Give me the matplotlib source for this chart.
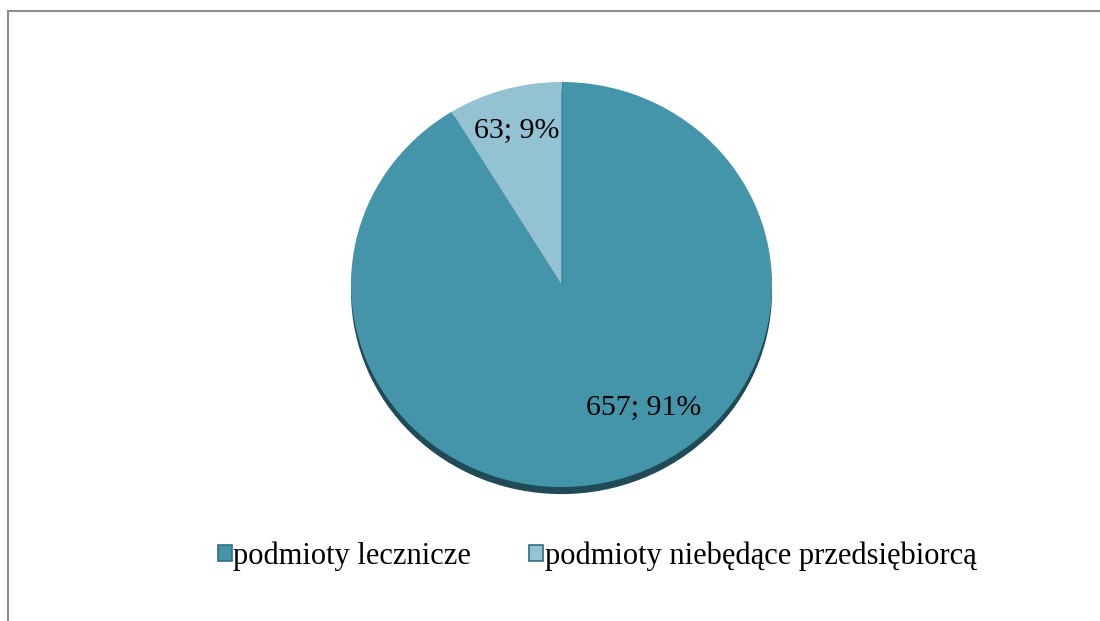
import numpy as np
import matplotlib
matplotlib.use("Agg")
import matplotlib.pyplot as plt
from matplotlib.patches import Ellipse, Patch, Rectangle

categories = ['podmioty lecznicze', 'podmioty niebędące przedsiębiorcą']
values = [657, 63]
colors = ['#4495a9', '#93c3d3']

plt.rcParams['font.family'] = ['Liberation Serif', 'DejaVu Serif']

fig = plt.figure(figsize=(11, 6.21), dpi=100)

# grey frame (only top and left edge visible in the crop)
fig.patches.append(Rectangle((8 / 1100, -0.1), 1.2, 1.1 - 12 / 621 + 0.001,
                             transform=fig.transFigure, fill=False,
                             edgecolor='#8c8c8c', linewidth=1.5))

ax = fig.add_axes([351 / 1100, (621 - 487) / 621, 421 / 1100, 405 / 621])

# shadow under the pie
shadow = Ellipse((0, -0.035), 2, 2, facecolor='#1f4a56', edgecolor='none',
                 zorder=0, clip_on=False)
ax.add_patch(shadow)

wedges, _ = ax.pie(values, colors=colors, startangle=90, counterclock=False,
                   radius=1, wedgeprops=dict(edgecolor='none', linewidth=0))
for w in wedges:
    w.set_zorder(1)
ax.plot([0, 0], [0, 1], color='#3f8597', linewidth=0.8, zorder=2)
ax.set_aspect('auto')
ax.set_xlim(-1, 1)
ax.set_ylim(-1, 1)
ax.axis('off')

total = sum(values)
label_pos = [(0.39, -0.61), (-0.214, 0.76)]
for v, (lx, ly) in zip(values, label_pos):
    ax.text(lx, ly, f"{v}; {round(100 * v / total)}%", ha='center', va='center',
            fontsize=21.5, color='black', zorder=3)

handles = [Patch(facecolor=c, edgecolor='#2f6f80', linewidth=1.2) for c in colors]
fig.legend(handles, categories, loc='center', bbox_to_anchor=(0.543, (621 - 556) / 621),
           ncol=2, frameon=False, fontsize=22, handlelength=0.45, handleheight=0.45,
           handletextpad=0.05, columnspacing=1.9, borderpad=0)

fig.savefig('out.png', dpi=100)
